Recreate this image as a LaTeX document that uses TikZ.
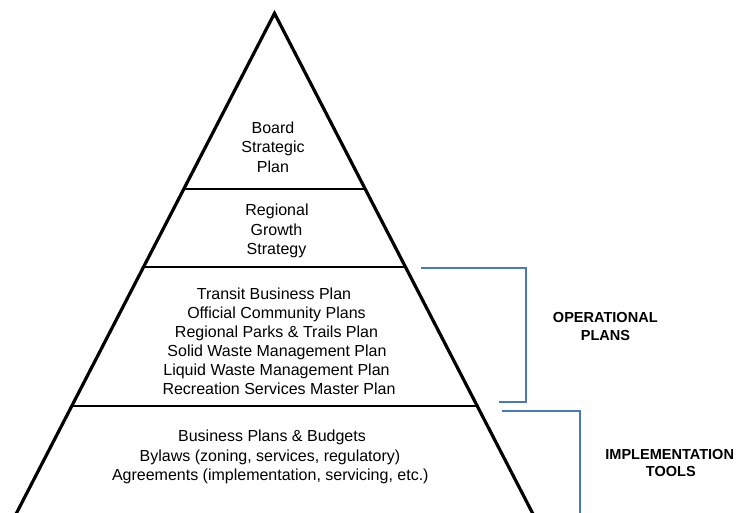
\documentclass[tikz,border=0pt]{standalone}
\usepackage{fontspec}
\setmainfont{Liberation Sans}
\definecolor{bracketblue}{RGB}{72,120,194}
\begin{document}
\begin{tikzpicture}[x=0.75pt,y=-0.75pt,
  side/.style={line width=2.4pt,line join=miter,miter limit=10},
  tier/.style={line width=1.5pt},
  bracket/.style={draw=bracketblue,line width=1.5pt},
  lbl/.style={anchor=base,inner sep=0pt,font=\fontsize{12}{14.4}\selectfont},
  head/.style={anchor=base,inner sep=0pt,font=\fontsize{10.9}{13}\selectfont\bfseries}]
\useasboundingbox (0,0) rectangle (749,512);
\begin{scope}
\clip (0,0) rectangle (749,512);
% pyramid outline
\coordinate (apex) at (274.5,13.3);
\coordinate (bl) at (15.5,515);
\coordinate (br) at (533.5,515);
\draw[side] (bl) -- (apex) -- (br);
% tier dividers
\coordinate (t1l) at (183.5,189); \coordinate (t1r) at (365.5,189);
\coordinate (t2l) at (143.5,267); \coordinate (t2r) at (405.5,267);
\coordinate (t3l) at (71.5,406);  \coordinate (t3r) at (477.5,406);
\draw[tier] (t1l) -- (t1r);
\draw[tier] (t2l) -- (t2r);
\draw[tier] (t3l) -- (t3r);
% brackets
\coordinate (o1) at (421,268.3); \coordinate (o2) at (526,268.3);
\coordinate (o3) at (526,402.3); \coordinate (o4) at (499,402.3);
\draw[bracket] (o1) -- (o2) -- (o3) -- (o4);
\coordinate (i1) at (502,410.7); \coordinate (i2) at (580,410.7);
\coordinate (i3) at (580,515);
\draw[bracket] (i1) -- (i2) -- (i3);
\end{scope}
% tier 1
\node[lbl] (a1) at (273,133) {Board};
\node[lbl] (a2) at (273,152.5) {Strategic};
\node[lbl] (a3) at (273,172) {Plan};
% tier 2
\node[lbl] (r1) at (277,215.7) {Regional};
\node[lbl] (r2) at (276.5,235) {Growth};
\node[lbl] (r3) at (276.5,254) {Strategy};
% tier 3
\node[lbl] (p1) at (274,299) {Transit Business Plan};
\node[lbl] (p2) at (276.5,318) {Official Community Plans};
\node[lbl] (p3) at (276.5,337) {Regional Parks \& Trails Plan};
\node[lbl] (p4) at (277,356) {Solid Waste Management Plan};
\node[lbl] (p5) at (276.5,375) {Liquid Waste Management Plan};
\node[lbl] (p6) at (279,394) {Recreation Services Master Plan};
% tier 4
\node[lbl] (b1) at (272,441.5) {Business Plans \& Budgets};
\node[lbl] (b2) at (270,461) {Bylaws (zoning, services, regulatory)};
\node[lbl] (b3) at (270.3,480.5) {Agreements (implementation, servicing, etc.)};
% side labels
\node[head] (op1) at (605.3,322.3) {OPERATIONAL};
\node[head] (op2) at (605.5,340) {PLANS};
\node[head] (im1) at (669.7,459.3) {IMPLEMENTATION};
\node[head] (im2) at (670.8,476.7) {TOOLS};
\end{tikzpicture}
\end{document}
